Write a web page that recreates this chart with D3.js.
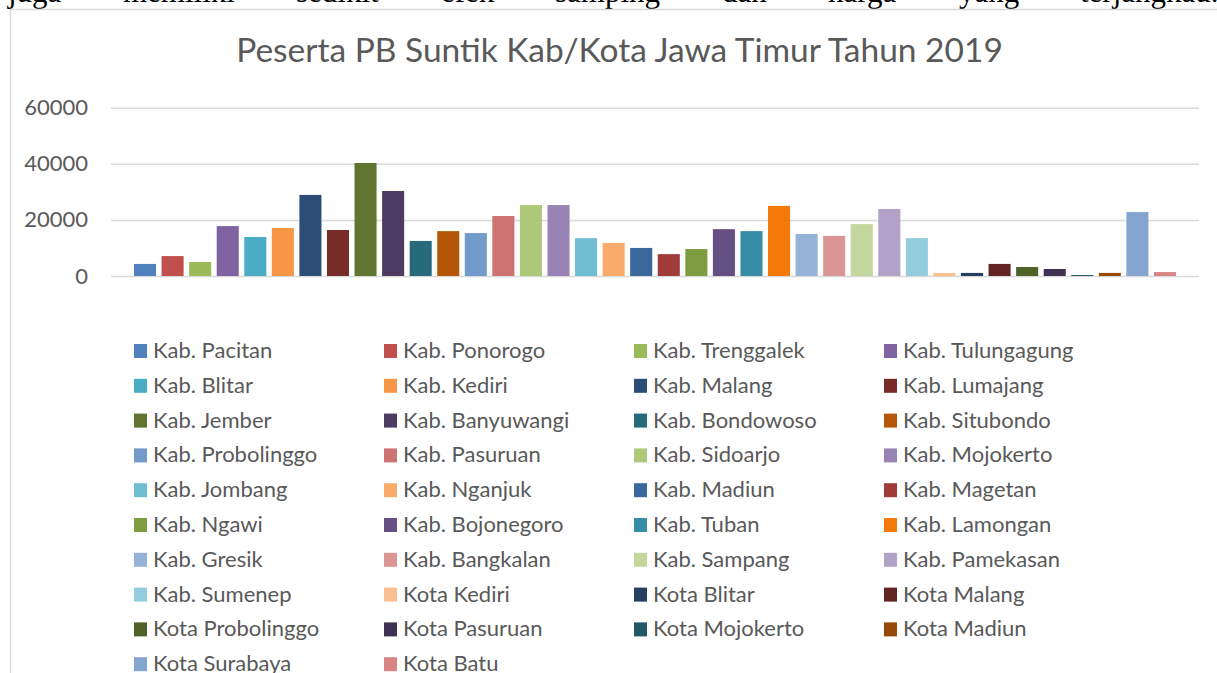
<!DOCTYPE html>
<html>
<head>
<meta charset="utf-8">
<script src="https://cdn.jsdelivr.net/npm/d3@7"></script>
<style>
	body { margin: 0; background: #fff; }
	svg { display: block; }
</style>
</head>
<body>
<div id="chart-area"></div>
<script>
// data
let regions = ["Kab. Pacitan", "Kab. Ponorogo", "Kab. Trenggalek", "Kab. Tulungagung",
	"Kab. Blitar", "Kab. Kediri", "Kab. Malang", "Kab. Lumajang",
	"Kab. Jember", "Kab. Banyuwangi", "Kab. Bondowoso", "Kab. Situbondo",
	"Kab. Probolinggo", "Kab. Pasuruan", "Kab. Sidoarjo", "Kab. Mojokerto",
	"Kab. Jombang", "Kab. Nganjuk", "Kab. Madiun", "Kab. Magetan",
	"Kab. Ngawi", "Kab. Bojonegoro", "Kab. Tuban", "Kab. Lamongan",
	"Kab. Gresik", "Kab. Bangkalan", "Kab. Sampang", "Kab. Pamekasan",
	"Kab. Sumenep", "Kota Kediri", "Kota Blitar", "Kota Malang",
	"Kota Probolinggo", "Kota Pasuruan", "Kota Mojokerto", "Kota Madiun",
	"Kota Surabaya", "Kota Batu"];

let peserta = [4300, 7100, 5000, 17800,
	13900, 17100, 28900, 16400,
	40300, 30300, 12500, 16000,
	15300, 21400, 25300, 25300,
	13500, 11800, 10000, 7800,
	9600, 16700, 16000, 25000,
	15000, 14300, 18500, 23900,
	13500, 1100, 1100, 4300,
	3200, 2500, 350, 1100,
	22800, 1400];

let colors = ["#4F81BD", "#C0504D", "#9BBB59", "#8064A2",
	"#4BACC6", "#F79646", "#2C4D75", "#772C2A",
	"#5F7530", "#4D3B62", "#276A7C", "#B65708",
	"#729ACA", "#CD7371", "#AFC97A", "#9983B5",
	"#6FBDD1", "#F9AB6B", "#3A679C", "#9F3B38",
	"#7E9D40", "#664F83", "#358EA6", "#F47A0A",
	"#95B3D7", "#D99694", "#C3D69B", "#B2A2C7",
	"#93CDDD", "#FAC090", "#243F60", "#632523",
	"#4F6228", "#3F3151", "#215968", "#984807",
	"#84A5D0", "#D88584"];

let yTicks = [0, 20000, 40000, 60000];

// words of the cut-off paragraph line above the chart (justified)
let topWords = ["juga", "memiliki", "sedikit", "efek", "samping", "dan", "harga", "yang", "terjangkau."];
let topWordX = [8, 123, 296, 441, 555, 722, 828, 959, 1080];

let width = 1217,
	height = 673;

let svg = d3.select("#chart-area")
	.append("svg")
	.attr("width", width)
	.attr("height", height);

let chartFont = "Lato, 'Open Sans', sans-serif";
let textColor = "#595959";

// paragraph text peeking in at the top
svg.append("g")
	.selectAll("text")
	.data(topWords)
	.enter()
	.append("text")
	.attr("x", (d, i) => topWordX[i])
	.attr("y", 2)
	.attr("font-family", "'Liberation Serif', 'Times New Roman', serif")
	.attr("font-size", 31)
	.attr("fill", "#000")
	.text(d => d);

// chart frame (left + top edges visible)
svg.append("path")
	.attr("d", "M10.5," + height + "V9.5H" + width)
	.attr("fill", "none")
	.attr("stroke", "#D9D9D9")
	.attr("stroke-width", 1.5);

// title
svg.append("text")
	.attr("x", 619.5)
	.attr("y", 62)
	.attr("text-anchor", "middle")
	.attr("font-family", chartFont)
	.attr("font-size", 33.5)
	.attr("fill", textColor)
	.text("Peserta PB Suntik Kab/Kota Jawa Timur Tahun 2019");

let plotLeft = 111,
	plotRight = 1199;

let x = d3.scaleBand()
	.domain(regions)
	.range([134, 1176])
	.paddingInner(0.2)
	.paddingOuter(0);

let y = d3.scaleLinear()
	.domain([0, 60000])
	.range([276, 107.7]);

let yAxis = d3.axisLeft(y)
	.tickValues(yTicks)
	.tickFormat(d3.format("d"))
	.tickSize(-(plotRight - plotLeft))
	.tickPadding(23);

let yg = svg.append("g")
	.attr("class", "axis y-axis")
	.attr("transform", "translate(" + plotLeft + ",0)")
	.call(yAxis);
yg.select(".domain").remove();
yg.selectAll("line")
	.attr("stroke", "#D9D9D9")
	.attr("stroke-width", 1.5);
yg.selectAll("text")
	.attr("font-family", chartFont)
	.attr("font-size", 22)
	.attr("fill", textColor);

// bars
svg.append("g")
	.selectAll("rect")
	.data(regions)
	.enter()
	.append("rect")
	.attr("x", d => x(d))
	.attr("y", (d, i) => y(peserta[i]))
	.attr("width", x.bandwidth())
	.attr("height", (d, i) => y(0) - y(peserta[i]))
	.attr("fill", (d, i) => colors[i]);

// legend, 4 columns
let legend = svg.append("g")
	.selectAll("g")
	.data(regions)
	.enter()
	.append("g")
	.attr("transform", (d, i) => "translate(" + (134 + (i % 4) * 250) + "," + (358 + Math.floor(i / 4) * 34.8) + ")");

legend.append("rect")
	.attr("x", 0)
	.attr("y", -14)
	.attr("width", 13)
	.attr("height", 14)
	.attr("fill", (d, i) => colors[i]);

legend.append("text")
	.attr("x", 19)
	.attr("y", 0)
	.attr("font-family", chartFont)
	.attr("font-size", 22)
	.attr("fill", textColor)
	.text(d => d);
</script>
</body>
</html>
